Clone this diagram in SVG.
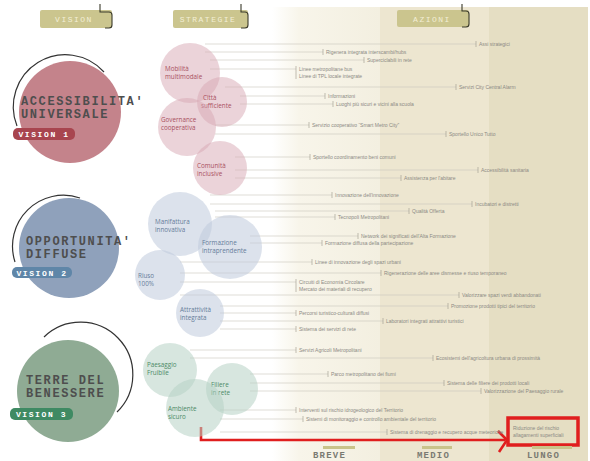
<svg xmlns="http://www.w3.org/2000/svg" width="590" height="461" viewBox="0 0 590 461">
<style>
.hdr{fill:#cbc58e}
.hdrt{font-family:"Liberation Mono",monospace;font-size:8px;fill:#f3efd6;letter-spacing:1.5px}
.brk{fill:none;stroke:#3a3a2a;stroke-width:1.1}
.vt{font-family:"Liberation Mono",monospace;font-size:12px;fill:#4e4e4e;letter-spacing:1.6px;font-weight:bold}
.tagt{font-family:"Liberation Mono",monospace;font-size:8px;fill:#ffffff;letter-spacing:1.6px;font-weight:bold}
.arc{fill:none;stroke:#333;stroke-width:1.2}
.sp{fill:#d8a7b3;opacity:0.5}
.sb{fill:#c0cbdc;opacity:0.55}
.sg{fill:#b6d2c4;opacity:0.55}
.st{font-family:"Open Sans","Noto Sans",sans-serif;font-size:6.3px}
.tp{fill:#a9505f}
.tb{fill:#667d9a}
.tg{fill:#4c8a66}
.ln{stroke:#c9c6bc;stroke-width:0.6;fill:none}
.tk{stroke:#9a978c;stroke-width:0.6;fill:none}
.at{font-family:"Liberation Sans",sans-serif;font-size:5px;fill:#8c8a84}
.bt{font-family:"Liberation Mono",monospace;font-size:9px;fill:#7a7a72;font-weight:bold;letter-spacing:1.2px}
.bar{fill:#c9c38a}
.red{stroke:#e01e1e;fill:none}
</style>
<defs>
<linearGradient id="c1" x1="0" y1="0" x2="1" y2="0">
<stop offset="0" stop-color="#ffffff"/>
<stop offset="0.25" stop-color="#f8f5ea"/>
<stop offset="1" stop-color="#f3efe0"/>
</linearGradient>
</defs>
<rect width="590" height="461" fill="#ffffff"/>
<g id="columns">
<rect x="272" y="7" width="108" height="454" fill="url(#c1)"/>
<rect x="380" y="7" width="109" height="454" fill="#ede6d0"/>
<rect x="489" y="7" width="99" height="454" fill="#e5dec3"/>
</g>
<g id="hdr-vision">
<rect class="hdr" x="40" y="10" width="72" height="18" rx="2"/>
<path class="brk" d="M100,4 V12 H109 Q112,12 112,15 V25 Q112,28 109,28 H105"/>
<text class="hdrt" x="74" y="22" text-anchor="middle">VISION</text>
</g>
<g id="hdr-strategie">
<rect class="hdr" x="173" y="10" width="75" height="18" rx="2"/>
<path class="brk" d="M241,4 V12 H245 Q248,12 248,15 V25 Q248,28 245,28 H241"/>
<text class="hdrt" x="208" y="22" text-anchor="middle">STRATEGIE</text>
</g>
<g id="hdr-azioni">
<rect class="hdr" x="397" y="10" width="72" height="17" rx="2"/>
<path class="brk" d="M462,4 V11 H466 Q469,11 469,14 V24 Q469,27 466,27 H462"/>
<text class="hdrt" x="432" y="22" text-anchor="middle">AZIONI</text>
</g>
<g id="connectors">
<path class="ln" d="M205,44 H476 M205,52 H323 M210,60 H364 M210,69 H296 M225,87 H456 M240,96 H325 M240,104 H333 M215,125 H309 M215,134 H446 M235,157 H310 M235,170 H478 M235,178 H401"/>
<path class="ln" d="M210,195 H332 M210,204 H472 M215,211 H409 M215,217 H335 M250,236 H358 M250,243 H322 M180,262 H312 M180,273 H381 M180,282 H296 M180,295 H459 M220,306 H448 M220,313 H296 M220,321 H383 M220,329 H296"/>
<path class="ln" d="M190,350 H296 M190,358 H433 M250,374 H328 M250,383 H444 M250,391 H481 M220,410 H296 M220,419 H303 M220,432 H387"/>
<path class="tk" d="M476,41 V47 M323,49 V55 M364,57 V63 M296,66 V79 M456,84 V90 M325,93 V99 M333,101 V107 M309,122 V128 M446,131 V137 M310,154 V160 M478,167 V173 M401,175 V181"/>
<path class="tk" d="M332,192 V198 M472,201 V207 M409,208 V214 M335,214 V220 M358,233 V239 M322,240 V246 M312,259 V265 M381,270 V276 M296,279 V292 M459,292 V298 M448,303 V309 M296,310 V316 M383,318 V324 M296,326 V332"/>
<path class="tk" d="M296,347 V353 M433,355 V361 M328,371 V377 M444,380 V386 M481,388 V394 M296,407 V413 M303,416 V422 M387,429 V435"/>
<path class="red" stroke-width="2.6" d="M201,427 V440 H505"/>
<path class="red" stroke-width="2.6" d="M498,431 L507,440 L499,452"/>
</g>
<g id="vision1">
<circle cx="70" cy="112" r="51" fill="#c4838b"/>
<path class="arc" d="M17,126 A52,52 0 0 1 104,72"/>
<text class="vt" x="21" y="104.5">ACCESSIBILITA'</text>
<text class="vt" x="21" y="118">UNIVERSALE</text>
<rect x="13" y="128" width="62" height="12" rx="5" fill="#a8454f"/>
<text class="tagt" x="44" y="137" text-anchor="middle">VISION 1</text>
</g>
<g id="vision2">
<circle cx="69" cy="248" r="50" fill="#8fa1bb"/>
<path class="arc" d="M15,262 A51,51 0 0 1 80,198"/>
<text class="vt" x="26" y="244.5">OPPORTUNITA'</text>
<text class="vt" x="26" y="258">DIFFUSE</text>
<rect x="12" y="267" width="60" height="11" rx="5" fill="#5f86a8"/>
<text class="tagt" x="42" y="275.5" text-anchor="middle">VISION 2</text>
</g>
<g id="vision3">
<circle cx="68" cy="391" r="51" fill="#8fab94"/>
<path class="arc" d="M44,337 A51,51 0 0 1 117,412"/>
<text class="vt" x="26" y="383.5">TERRE DEL</text>
<text class="vt" x="26" y="397">BENESSERE</text>
<rect x="10" y="408" width="63" height="12" rx="5" fill="#3f8a63"/>
<text class="tagt" x="41.5" y="417" text-anchor="middle">VISION 3</text>
</g>
<g id="s-mobilita">
<circle class="sp" cx="190" cy="73" r="30"/>
<text class="st tp" x="165" y="71">Mobilità</text>
<text class="st tp" x="165" y="79">multimodale</text>
</g>
<g id="s-citta">
<circle class="sp" cx="222" cy="102" r="25"/>
<text class="st tp" x="203" y="100">Città</text>
<text class="st tp" x="201" y="108">sufficiente</text>
</g>
<g id="s-governance">
<circle class="sp" cx="187" cy="127" r="29"/>
<text class="st tp" x="161" y="122">Governance</text>
<text class="st tp" x="161" y="130">cooperativa</text>
</g>
<g id="s-comunita">
<circle class="sp" cx="220" cy="168" r="27"/>
<text class="st tp" x="197" y="168">Comunità</text>
<text class="st tp" x="197" y="176">inclusive</text>
</g>
<g id="s-manifattura">
<circle class="sb" cx="180" cy="224" r="32"/>
<text class="st tb" x="155" y="224">Manifattura</text>
<text class="st tb" x="155" y="232">innovativa</text>
</g>
<g id="s-formazione">
<circle class="sb" cx="230" cy="247" r="32"/>
<text class="st tb" x="202" y="245">Formazione</text>
<text class="st tb" x="202" y="253">intraprendente</text>
</g>
<g id="s-riuso">
<circle class="sb" cx="160" cy="275" r="25"/>
<text class="st tb" x="138" y="278">Riuso</text>
<text class="st tb" x="138" y="286">100%</text>
</g>
<g id="s-attrattivita">
<circle class="sb" cx="200" cy="313" r="24"/>
<text class="st tb" x="180" y="312">Attrattività</text>
<text class="st tb" x="180" y="320">integrata</text>
</g>
<g id="s-paesaggio">
<circle class="sg" cx="170" cy="370" r="27"/>
<text class="st tg" x="147" y="367">Paesaggio</text>
<text class="st tg" x="147" y="375">Fruibile</text>
</g>
<g id="s-filiere">
<circle class="sg" cx="232" cy="389" r="26"/>
<text class="st tg" x="211" y="387">Filiere</text>
<text class="st tg" x="211" y="395">in rete</text>
</g>
<g id="s-ambiente">
<circle class="sg" cx="195" cy="408" r="29"/>
<text class="st tg" x="168" y="411">Ambiente</text>
<text class="st tg" x="168" y="419">sicuro</text>
</g>
<g id="actions-v1">
<text class="at" x="479" y="46">Assi strategici</text>
<text class="at" x="326" y="54">Rigenera integrata interscambi/hubs</text>
<text class="at" x="367" y="62">Superciclabili in rete</text>
<text class="at" x="299" y="71">Linee metropolitane bus</text>
<text class="at" x="299" y="78">Linee di TPL locale integrate</text>
<text class="at" x="459" y="89">Servizi City Central Alarm</text>
<text class="at" x="328" y="98">Informazioni</text>
<text class="at" x="336" y="106">Luoghi più sicuri e vicini alla scuola</text>
<text class="at" x="312" y="127">Servizio cooperativo “Smart Metro City”</text>
<text class="at" x="449" y="136">Sportello Unico Tutto</text>
<text class="at" x="313" y="159">Sportello coordinamento beni comuni</text>
<text class="at" x="481" y="172">Accessibilità sanitaria</text>
<text class="at" x="404" y="180">Assistenza per l'abitare</text>
</g>
<g id="actions-v2">
<text class="at" x="335" y="197">Innovazione dell'innovazione</text>
<text class="at" x="475" y="206">Incubatori e distretti</text>
<text class="at" x="412" y="213">Qualità Offerta</text>
<text class="at" x="338" y="219">Tecnopoli Metropolitani</text>
<text class="at" x="361" y="238">Network dei significati dell'Alta Formazione</text>
<text class="at" x="325" y="245">Formazione diffusa della partecipazione</text>
<text class="at" x="315" y="264">Linee di innovazione degli spazi urbani</text>
<text class="at" x="384" y="275">Rigenerazione delle aree dismesse e riuso temporaneo</text>
<text class="at" x="299" y="284">Circuiti di Economia Circolare</text>
<text class="at" x="299" y="291">Mercato dei materiali di recupero</text>
<text class="at" x="462" y="297">Valorizzare spazi verdi abbandonati</text>
<text class="at" x="451" y="308">Promozione prodotti tipici del territorio</text>
<text class="at" x="299" y="315">Percorsi turistico-culturali diffusi</text>
<text class="at" x="386" y="323">Laboratori integrati attrattivi turistici</text>
<text class="at" x="299" y="331">Sistema dei servizi di rete</text>
</g>
<g id="actions-v3">
<text class="at" x="299" y="352">Servizi Agricoli Metropolitani</text>
<text class="at" x="436" y="360">Ecosistemi dell'agricoltura urbana di prossimità</text>
<text class="at" x="331" y="376">Parco metropolitano dei fiumi</text>
<text class="at" x="447" y="385">Sistema delle filiere dei prodotti locali</text>
<text class="at" x="484" y="393">Valorizzazione del Paesaggio rurale</text>
<text class="at" x="299" y="412">Interventi sul rischio idrogeologico del Territorio</text>
<text class="at" x="306" y="421">Sistemi di monitoraggio e controllo ambientale del territorio</text>
<text class="at" x="390" y="434">Sistema di drenaggio e recupero acque meteoriche</text>
</g>
<g id="highlight">
<rect class="red" stroke-width="3.5" x="508" y="418" width="70" height="27"/>
<text class="at" x="513" y="430" fill="#6c7c94">Riduzione del rischio</text>
<text class="at" x="513" y="437" fill="#6c7c94">allagamenti superficiali</text>
</g>
<g id="time-scale">
<rect class="bar" x="323" y="446" width="32" height="3"/>
<rect class="bar" x="422" y="446" width="30" height="3"/>
<rect class="bar" x="532" y="446" width="40" height="3"/>
<text class="bt" x="313" y="458">BREVE</text>
<text class="bt" x="417" y="458">MEDIO</text>
<text class="bt" x="527" y="458">LUNGO</text>
</g>
</svg>
